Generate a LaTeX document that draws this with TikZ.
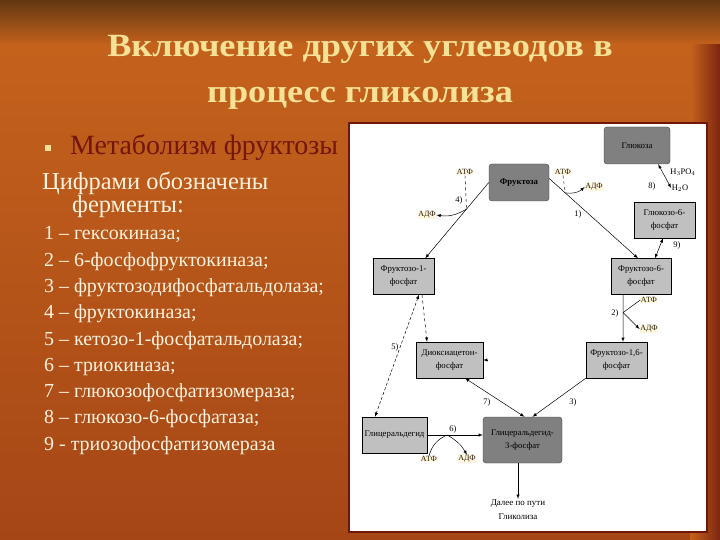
\documentclass[tikz,border=0pt]{standalone}
\usepackage{fontspec}
\setmainfont{Liberation Serif}
\newfontfamily\titlefont[FakeStretch=1.12]{Liberation Serif}
\usepackage{tikz}
\usetikzlibrary{arrows}

\definecolor{bgdark}{RGB}{98,55,18}
\definecolor{bgmid}{RGB}{196,98,28}
\definecolor{bgbot}{RGB}{165,70,22}
\definecolor{bgred}{RGB}{125,38,15}
\definecolor{titlecol}{RGB}{246,226,150}
\definecolor{headcol}{RGB}{115,22,12}
\definecolor{listcol}{RGB}{255,242,222}
\definecolor{panelred}{RGB}{112,22,14}
\definecolor{darkfill}{RGB}{128,128,128}
\definecolor{lightfill}{RGB}{192,192,192}
\definecolor{atpfill}{RGB}{255,248,222}

\begin{document}
\begin{tikzpicture}[x=1bp,y=-1bp]

\tikzstyle{darkbox}=[rectangle, rounded corners=3bp, draw=black!75, fill=darkfill, minimum width=60bp, minimum height=37bp, align=center, inner sep=0.5bp, font=\fontsize{8.8}{13}\selectfont]
\tikzstyle{lightbox}=[rectangle, draw=black, fill=lightfill, minimum width=61bp, minimum height=36bp, align=center, inner sep=0.5bp, font=\fontsize{8.8}{13}\selectfont]
\tikzstyle{atp}=[fill=atpfill, inner sep=0.5bp, text=black!80!brown, font=\fontsize{8}{9}\selectfont]
\tikzstyle{enz}=[inner sep=0.5bp, font=\fontsize{8.5}{9}\selectfont]
\tikzstyle{arrow}=[->, >=latex, line width=0.5bp]
\tikzstyle{biarrow}=[<->, >=latex, line width=0.5bp]
\tikzstyle{item}=[anchor=base west, inner sep=0, text=listcol, font=\fontsize{20}{22}\selectfont]

% background
\useasboundingbox (0,0) rectangle (720,540);
\shade[top color=bgdark, bottom color=bgmid] (0,0) rectangle (720,45);
\shade[top color=bgmid, bottom color=bgbot] (0,45) rectangle (720,540);
\shade[left color=bgmid, right color=bgred] (690,45) rectangle (720,540);

% title
\node (t1) [anchor=base, text=titlecol, font=\fontsize{32.5}{36}\titlefont\bfseries] at (360,57) {Включение других углеводов в};
\node (t2) [anchor=base, text=titlecol, font=\fontsize{32.5}{36}\titlefont\bfseries] at (360,103) {процесс гликолиза};

% left text
\node (bul) [fill=titlecol, minimum size=6bp, inner sep=0] at (48,148) {};
\node (head) [anchor=base west, inner sep=0, text=headcol, font=\fontsize{28}{30}\selectfont] at (70,155) {Метаболизм фруктозы};
\node (sub1) [anchor=base west, inner sep=0, text=listcol, font=\fontsize{24.5}{26}\selectfont] at (42,190) {Цифрами обозначены};
\node (sub2) [anchor=base west, inner sep=0, text=listcol, font=\fontsize{24.5}{26}\selectfont] at (72,213) {ферменты:};
\node (e1) [item] at (44,240) {1 – гексокиназа;};
\node (e2) [item] at (44,266.25) {2 – 6-фосфофруктокиназа;};
\node (e3) [item] at (44,292.5) {3 – фруктозодифосфатальдолаза;};
\node (e4) [item] at (44,318.75) {4 – фруктокиназа;};
\node (e5) [item] at (44,345) {5 – кетозо-1-фосфатальдолаза;};
\node (e6) [item] at (44,371.25) {6 – триокиназа;};
\node (e7) [item] at (44,397.5) {7 – глюкозофосфатизомераза;};
\node (e8) [item] at (44,423.75) {8 – глюкозо-6-фосфатаза;};
\node (e9) [item] at (44,450) {9 - триозофосфатизомераза};

% panel
\draw[draw=panelred, line width=2.5bp, fill=white] (349,123) rectangle (707,532);

% boxes
\node (glu) [darkbox, minimum width=66bp] at (637,145.5) {Глюкоза};
\node (fru) [darkbox, font=\fontsize{8.8}{13}\selectfont\bfseries] at (519,182.5) {Фруктоза};
\node (g6p) [lightbox] at (664.5,220) {Глюкозо-6-\\фосфат};
\node (f1p) [lightbox] at (403.5,276.5) {Фруктозо-1-\\фосфат};
\node (f6p) [lightbox, minimum width=60bp] at (641,276.5) {Фруктозо-6-\\фосфат};
\node (dhap) [lightbox, minimum width=67bp] at (449.5,360) {Диоксиацетон-\\фосфат};
\node (f16p) [lightbox] at (616.5,360) {Фруктозо-1,6-\\фосфат};
\node (gald) [lightbox, minimum width=65bp] at (394.5,435) {Глицеральдегид};
\node (g3p) [darkbox, minimum width=79bp, minimum height=46bp] at (522.5,440) {Глицеральдегид-\\3-фосфат};
\node (next) [align=center, inner sep=1bp, font=\fontsize{9}{14}\selectfont] at (518,510) {Далее по пути\\Гликолиза};

% side labels
\node (atp4) [atp] at (465,172) {АТФ};
\node (adp4) [atp] at (427,215) {АДФ};
\node (n4) [enz] at (459,200) {4)};
\node (atp1) [atp] at (563,172) {АТФ};
\node (adp1) [atp] at (594,187) {АДФ};
\node (n1) [enz] at (578,214) {1)};
\node (h3po4) [enz] at (683,172) {H$_3$PO$_4$};
\node (h2o) [enz] at (680,188) {H$_2$O};
\node (n8) [enz] at (652,186) {8)};
\node (n9) [enz] at (677,245) {9)};
\node (atp2) [atp] at (649,300) {АТФ};
\node (adp2) [atp] at (649,329) {АДФ};
\node (n2) [enz] at (615,313) {2)};
\node (n3) [enz] at (573,402) {3)};
\node (n7) [enz] at (487,402) {7)};
\node (n5) [enz] at (395,347) {5)};
\node (n6) [enz] at (453,429) {6)};
\node (atp6) [atp] at (429,459) {АТФ};
\node (adp6) [atp] at (467,459) {АДФ};

% arrows
\draw [arrow] (fru.west) -- coordinate[pos=0.35] (k4) ([xshift=-9bp]f1p.north east);
\draw [dashed, line width=0.4bp] (atp4.south) -- (k4);
\draw [arrow] (k4) to[bend left=20] (adp4.east);
\draw [arrow] ([yshift=4bp]fru.east) -- coordinate[pos=0.18] (k1) ([xshift=-3bp]f6p.north);
\draw [dashed, line width=0.4bp] (atp1.south) -- (k1);
\draw [arrow] (k1) to[bend right=25] (adp1.west);
\draw [biarrow] ([xshift=-12bp]glu.south east) -- (h2o.west);
\draw [biarrow] ([xshift=-1.5bp]g6p.south) -- ([xshift=14bp]f6p.north);
\draw [arrow] ([xshift=-18bp]f6p.south) -- coordinate[pos=0.38] (k2) ([xshift=6.5bp]f16p.north);
\draw [line width=0.5bp] (k2) -- (atp2.west);
\draw [arrow] (k2) -- (adp2.west);
\draw [arrow] (f16p.south west) -- ([xshift=10bp]g3p.north);
\draw [biarrow] ([xshift=15.5bp]dhap.south) -- ([xshift=2bp]g3p.north);
\draw [arrow, dashed] ([xshift=18.5bp]f1p.south) -- ([xshift=-22.5bp]dhap.north);
\draw [biarrow, densely dashed] ([xshift=15.5bp]f1p.south) -- ([xshift=-19.5bp]gald.north);
\draw [arrow] ([xshift=5bp]dhap.east) -- (dhap.east);
\draw [arrow] (gald.east) -- coordinate[pos=0.36] (k6) (gald.east -| g3p.west);
\draw [line width=0.5bp] (atp6.north) to[bend left=25] (k6);
\draw [arrow] (k6) to[bend left=15] (adp6.north);
\draw [arrow] (g3p.south -| next) -- (next);

\end{tikzpicture}
\end{document}
